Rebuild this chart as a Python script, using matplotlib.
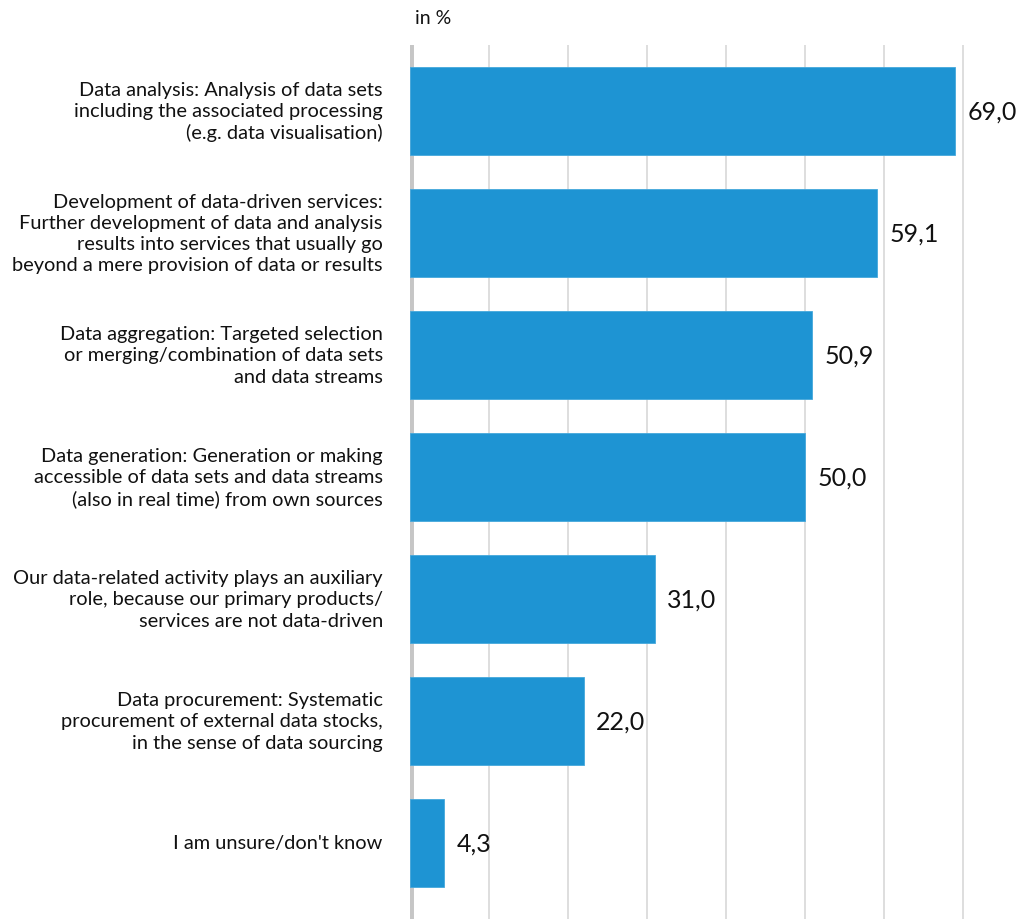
import matplotlib.pyplot as plt

categories = [
    "Data analysis: Analysis of data sets\nincluding the associated processing\n(e.g. data visualisation)",
    "Development of data-driven services:\nFurther development of data and analysis\nresults into services that usually go\nbeyond a mere provision of data or results",
    "Data aggregation: Targeted selection\nor merging/combination of data sets\nand data streams",
    "Data generation: Generation or making\naccessible of data sets and data streams\n(also in real time) from own sources",
    "Our data-related activity plays an auxiliary\nrole, because our primary products/\nservices are not data-driven",
    "Data procurement: Systematic\nprocurement of external data stocks,\nin the sense of data sourcing",
    "I am unsure/don't know",
]
values = [69.0, 59.1, 50.9, 50.0, 31.0, 22.0, 4.3]
value_labels = ["69,0", "59,1", "50,9", "50,0", "31,0", "22,0", "4,3"]

plt.rcParams['font.family'] = ['Lato', 'DejaVu Sans']

fig = plt.figure(figsize=(10.23, 9.2), dpi=100)
ax = fig.add_axes([0.4005, 0.0, 0.5995, 0.95])

ypos = list(range(len(values)))
ax.barh(ypos, values, height=0.72, color='#1e94d3', edgecolor='#45a8dc', linewidth=0.6, zorder=3)

for y, v, lab in zip(ypos, values, value_labels):
    ax.text(v + 1.6, y, lab, va='center', ha='left', fontsize=18, color='#111111')

for y, cat in zip(ypos, categories):
    ax.text(-3.4, y, cat, va='center', ha='right', fontsize=14.4, color='#111111',
            linespacing=1.3)

# vertical grid and the thick grey baseline
for gx in range(10, 80, 10):
    ax.axvline(gx, color='#d4d4d4', linewidth=1.1, zorder=1)
ax.axvline(0, color='#c6c6c6', linewidth=5.0, zorder=2)

ax.set_xlim(0, 77.6)
ax.set_ylim(6.623, -0.541)
ax.set_xticks([])
ax.set_yticks([])
for s in ax.spines.values():
    s.set_visible(False)

fig.text(415 / 1023, 1 - 18 / 920, "in %", ha='left', va='center', fontsize=14, color='#111111')

fig.savefig('out.png', dpi=100)
